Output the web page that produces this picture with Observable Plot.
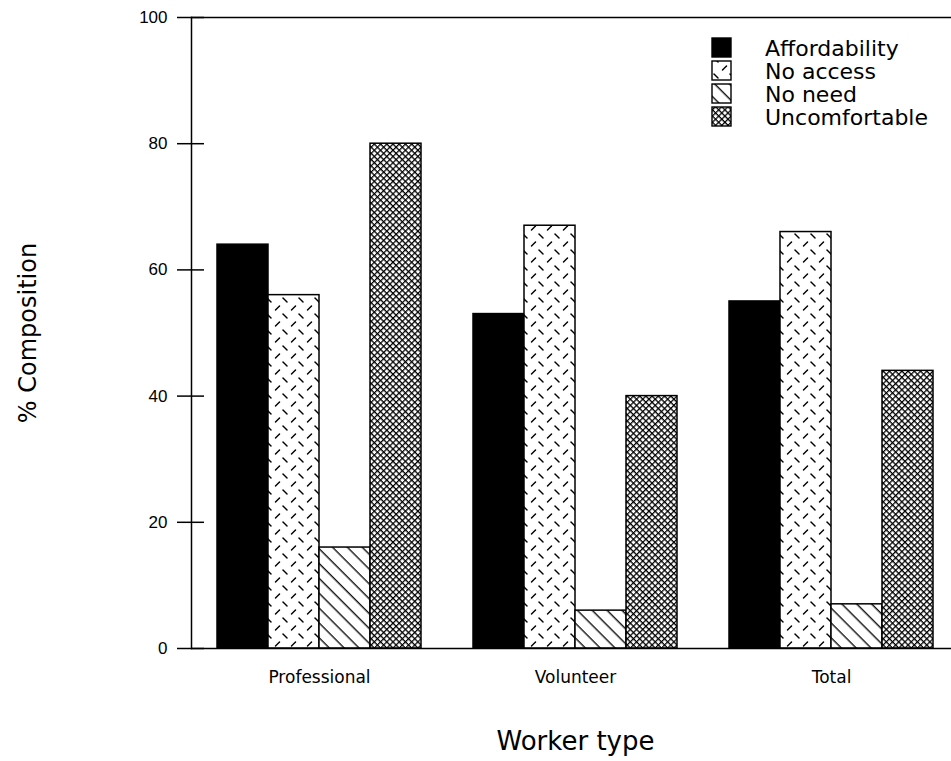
<!DOCTYPE html>
<html><head><meta charset="utf-8">
<script src="https://cdn.jsdelivr.net/npm/d3@7"></script>
<script src="https://cdn.jsdelivr.net/npm/@observablehq/plot@0.6"></script>
<style>
html,body{margin:0;padding:0;background:#fff;overflow:hidden;}
#defs{position:absolute;left:0;top:0;width:0;height:0;}
</style></head><body>
<svg id="defs" width="0" height="0" aria-hidden="true">
<defs>
<pattern id="p-noaccess" patternUnits="userSpaceOnUse" width="16" height="16">
  <rect width="16" height="16" fill="#fff"/>
  <path d="M2.5,6 L6.5,2" stroke="#000" stroke-width="1.5" stroke-linecap="round"/>
  <path d="M10,10 L14,14" stroke="#000" stroke-width="1.5" stroke-linecap="round"/>
</pattern>
<pattern id="p-noneed" patternUnits="userSpaceOnUse" width="10.5" height="10.5" patternTransform="rotate(-45)">
  <rect width="10.5" height="10.5" fill="#fff"/>
  <path d="M5,0 L5,10.5" stroke="#000" stroke-width="1.3"/>
</pattern>
<pattern id="p-uncomf" patternUnits="userSpaceOnUse" width="4.4" height="4.4" patternTransform="rotate(45)">
  <rect width="4.4" height="4.4" fill="#fff"/>
  <path d="M0,0 L4.4,0 M0,0 L0,4.4" stroke="#000" stroke-width="2.5"/>
</pattern>
</defs>
</svg>
<div id="chart"></div>
<script>
const groups = ["Professional", "Volunteer", "Total"];
const causes = ["Affordability", "No access", "No need", "Uncomfortable"];
const professional = [64, 56, 16, 80];
const volunteer = [53, 67, 6, 40];
const total = [55, 66, 7, 44];
const yTicks = [0, 20, 40, 60, 80, 100];
const fills = ["black", "url(#p-noaccess)", "url(#p-noneed)", "url(#p-uncomf)"];

const series = [professional, volunteer, total];
const data = groups.flatMap((g, i) => causes.map((c, j) => ({group: g, cause: c, value: series[i][j]})));

const plot = Plot.plot({
  width: 951,
  height: 761,
  marginLeft: 190,
  marginRight: -8.5,
  marginTop: 17,
  marginBottom: 113,
  style: {fontFamily: "'Liberation Sans', Arial, sans-serif", background: "white", color: "black", overflow: "hidden"},
  fx: {domain: groups, padding: 0, label: null, axis: null},
  x: {domain: causes, paddingInner: 0, paddingOuter: 0.49, axis: null},
  y: {domain: [0, 100]},
  color: {domain: causes, range: fills},
  marks: [
    Plot.barY(data, {fx: "group", x: "cause", y: "value", fill: "cause", stroke: "black", strokeWidth: 1.5}),
    Plot.ruleY([0, 100], {stroke: "black", strokeWidth: 1.5}),
    Plot.frame({anchor: "left", facetAnchor: "left", stroke: "black", strokeWidth: 1.5}),
    Plot.axisY(yTicks, {tickSize: 27, dx: 13, tickPadding: 10, fontSize: 17, label: null, strokeWidth: 1.5}),
    Plot.axisY({ticks: [], tickSize: 0, label: "% Composition", labelArrow: "none", labelAnchor: "center", labelOffset: 173, fontSize: 24, fontFamily: "'DejaVu Sans', sans-serif"}),
    Plot.axisFx({anchor: "bottom", tickSize: 0, tickPadding: 22, fontSize: 17, fontFamily: "'DejaVu Sans', sans-serif", label: null}),
    Plot.axisFx({anchor: "bottom", ticks: [], tickSize: 0, label: "Worker type", labelArrow: "none", labelAnchor: "center", labelOffset: 101, fontSize: 26, fontFamily: "'DejaVu Sans', sans-serif"})
  ]
});
document.getElementById("chart").appendChild(plot);

// legend inside the plot area
const color = plot.scale("color");
const leg = d3.select(plot).append("g").attr("class", "legend");
causes.forEach((c, i) => {
  leg.append("rect").attr("x", 712).attr("y", 38 + 23 * i).attr("width", 19).attr("height", 19)
    .attr("fill", color.apply(c)).attr("stroke", "black").attr("stroke-width", 1.4);
  leg.append("text").attr("x", 765).attr("y", 56 + 23 * i).attr("font-size", 22)
    .attr("text-anchor", "start")
    .attr("font-family", "'DejaVu Sans', sans-serif").attr("fill", "black").text(c);
});
</script>
</body></html>
